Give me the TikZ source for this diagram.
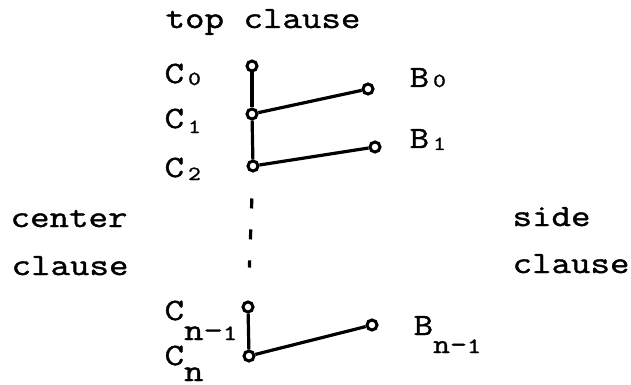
\documentclass[tikz,border=0pt]{standalone}
\usepackage{fontspec}
\newfontfamily\typefont{Latin Modern Mono}[FakeStretch=1.22, FakeBold=1.3]
\usetikzlibrary{positioning}

% lowered small index, and lowered n-index
\newcommand\idx[2]{\kern2pt\raisebox{-#1}{\fontsize{10}{10}\selectfont #2}}
\newcommand\nidx[2]{\raisebox{-#1}{#2}}

\begin{document}
\begin{tikzpicture}[x=0.5pt, y=-0.5pt, line width=1.6pt, font=\typefont\fontsize{15.5}{18}\selectfont]

  \tikzstyle{joint}=[circle, draw=black, fill=white, line width=1.5pt, inner sep=0pt, minimum size=5pt]
  \tikzstyle{word}=[anchor=base west, inner sep=0pt]

  \useasboundingbox (0,0) rectangle (631,385);

  % center clause
  \node[joint] (c0) at (252,66) {};
  \node[joint] (c1) at (252,114) {};
  \node[joint] (c2) at (253,166) {};
  \node[joint] (cn1) at (248,307) {};
  \node[joint] (cn) at (249,356) {};

  % side clauses
  \node[joint] (b0) at (368,89) {};
  \node[joint] (b1) at (375,147) {};
  \node[joint] (bn1) at (372,325) {};

  \path
    (c0) edge (c1)
    (c1) edge (c2)
    (c1) edge (b0)
    (c2) edge (b1)
    (cn1) edge (cn)
    (cn) edge (bn1);
  \draw[dash pattern=on 5pt off 10.5pt, shorten <=13pt, shorten >=16.5pt] (c2) -- (cn1);

  \node[word] (top) at (164,28) {top clause};
  \node[word] (center) at (9,227) {center};
  \node[word] (clauseL) at (10,275) {clause};
  \node[word] (side) at (511,226) {side};
  \node[word] (clauseR) at (511,273) {clause};

  \node[word] (lc0) at (163,83) {C\idx{1pt}{0}};
  \node[word] (lc1) at (163,128) {C\idx{2.5pt}{1}};
  \node[word] (lc2) at (163,177) {C\idx{1.5pt}{2}};
  \node[word] (lcn1) at (163,320) {C\nidx{10pt}{n-{\fontsize{11}{11}\selectfont 1}}};
  \node[word] (lcn) at (163,365) {C\nidx{8pt}{n}};
  \node[word] (lb0) at (408,87) {B\idx{0pt}{0}};
  \node[word] (lb1) at (408,148) {B\idx{1pt}{1}};
  \node[word] (lbn1) at (412,335) {B\nidx{9pt}{\fontsize{13.5}{13.5}\selectfont n-{\fontsize{11}{11}\selectfont 1}}};

\end{tikzpicture}
\end{document}
